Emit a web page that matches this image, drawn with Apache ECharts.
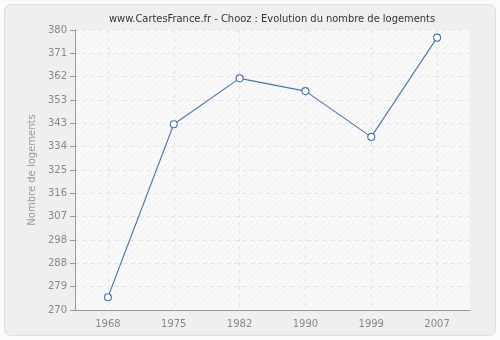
<!DOCTYPE html>
<html>
<head>
<meta charset="utf-8">
<script src="https://cdn.jsdelivr.net/npm/echarts@6/dist/echarts.min.js"></script>
<style>
  html, body { margin: 0; padding: 0; background: #fbfbfb; }
  #chart { width: 500px; height: 340px; }
</style>
</head>
<body>
<div id="chart"></div>
<script>
// Census years and dwelling counts for Chooz
const years = ['1968', '1975', '1982', '1990', '1999', '2007'];
const logements = [275, 343, 361, 356, 338, 377];

// Value axis range, split into 12 equal steps (labels rounded)
const yMin = 270;
const yMax = 380;
const ySteps = 12;

// Diagonal hatch used as the plot area background
function hatchPattern() {
  const c = document.createElement('canvas');
  c.width = 6; c.height = 6;
  const g = c.getContext('2d');
  g.fillStyle = '#f9f9f9';
  g.fillRect(0, 0, 6, 6);
  g.strokeStyle = '#f0f0f0';
  g.lineWidth = 1;
  g.beginPath();
  g.moveTo(0, 6); g.lineTo(6, 0);
  g.moveTo(-3, 3); g.lineTo(3, -3);
  g.moveTo(3, 9); g.lineTo(9, 3);
  g.stroke();
  return c;
}

const chart = echarts.init(document.getElementById('chart'), null, { renderer: 'canvas' });

chart.setOption({
  animation: false,
  backgroundColor: 'transparent',
  graphic: [{
    type: 'rect',
    z: -10,
    shape: { x: 4.5, y: 4.5, width: 491, height: 331, r: 6 },
    style: { fill: '#efefef', stroke: '#dedede', lineWidth: 1 }
  }],
  title: {
    text: 'www.CartesFrance.fr - Chooz : Evolution du nombre de logements',
    left: 104,
    top: 9,
    textStyle: { fontFamily: '"DejaVu Sans Condensed", "DejaVu Sans"', fontSize: 11, fontWeight: 'normal', color: '#333' }
  },
  grid: {
    left: 75, right: 30, top: 30, bottom: 30,
    show: true,
    backgroundColor: { image: hatchPattern(), repeat: 'repeat' },
    borderWidth: 0
  },
  xAxis: {
    type: 'category',
    data: years,
    boundaryGap: true,
    axisLine: { lineStyle: { color: '#999' } },
    axisTick: { alignWithLabel: true, length: 5, lineStyle: { color: '#999' } },
    axisLabel: { color: '#888', fontFamily: 'DejaVu Sans', fontSize: 10, margin: 9 },
    splitLine: { show: true, alignWithLabel: true, lineStyle: { color: '#e4e4e4', type: [4, 4] } }
  },
  yAxis: {
    type: 'value',
    min: yMin,
    max: yMax,
    interval: (yMax - yMin) / ySteps,
    name: 'Nombre de logements',
    nameLocation: 'middle',
    nameGap: 34,
    nameTextStyle: { color: '#999', fontFamily: 'DejaVu Sans', fontSize: 10 },
    axisLine: { show: true, lineStyle: { color: '#999' } },
    axisTick: { show: true, length: 5, lineStyle: { color: '#999' } },
    axisLabel: {
      color: '#888', fontFamily: 'DejaVu Sans', fontSize: 10, margin: 8,
      formatter: v => String(Math.round(v))
    },
    splitLine: { show: true, lineStyle: { color: '#e4e4e4', type: [4, 4] } }
  },
  series: [{
    type: 'line',
    data: logements,
    symbol: 'circle',
    symbolSize: 7,
    lineStyle: { color: '#4a76ab', width: 1.1 },
    itemStyle: { color: '#fff', borderColor: '#4a76ab', borderWidth: 1.1 }
  }]
});
</script>
</body>
</html>
